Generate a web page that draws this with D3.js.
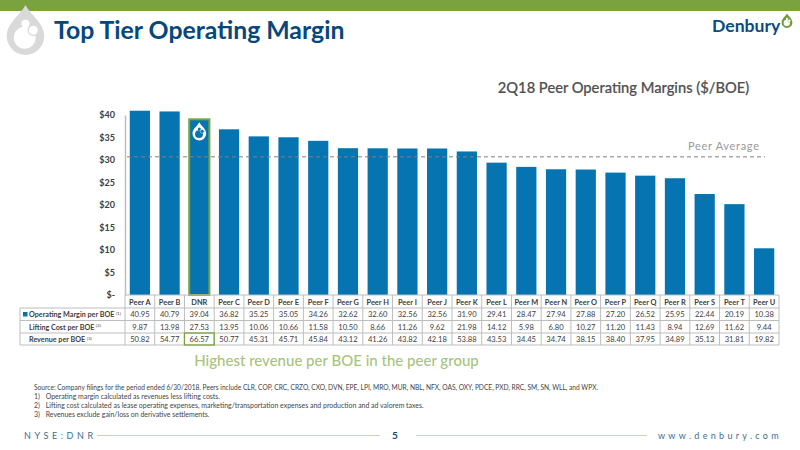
<!DOCTYPE html>
<html>
<head>
<meta charset="utf-8">
<script src="https://cdn.jsdelivr.net/npm/d3@7"></script>
<style>
html,body{margin:0;padding:0;background:#fff}
svg{display:block}
text{font-family:Lato,"Open Sans",sans-serif}
</style>
</head>
<body>
<svg id="c" width="800" height="450"></svg>
<script>
const categories=["Peer A","Peer B","DNR","Peer C","Peer D","Peer E","Peer F","Peer G","Peer H","Peer I","Peer J","Peer K","Peer L","Peer M","Peer N","Peer O","Peer P","Peer Q","Peer R","Peer S","Peer T","Peer U"];
const operatingMargin=[40.95,40.79,39.04,36.82,35.25,35.05,34.26,32.62,32.60,32.56,32.56,31.90,29.41,28.47,27.94,27.88,27.20,26.52,25.95,22.44,20.19,10.38];
const liftingCost=[9.87,13.98,27.53,13.95,10.06,10.66,11.58,10.50,8.66,11.26,9.62,21.98,14.12,5.98,6.80,10.27,11.20,11.43,8.94,12.69,11.62,9.44];
const revenue=[50.82,54.77,66.57,50.77,45.31,45.71,45.84,43.12,41.26,43.82,42.18,53.88,43.53,34.45,34.74,38.15,38.40,37.95,34.89,35.13,31.81,19.82];
const yTicks=[0,5,10,15,20,25,30,35,40];
const peerAverage=30.7;
const rowLabels=["Operating Margin per BOE","Lifting Cost per BOE","Revenue per BOE"];
const rowNotes=["(1)","(2)","(3)"];
const sourceNote="Source: Company filings for the period ended 6/30/2018. Peers include CLR, COP, CRC, CRZO, CXO, DVN, EPE, LPI, MRO, MUR, NBL, NFX, OAS, OXY, PDCE, PXD, RRC, SM, SN, WLL, and WPX.";
const footNumbers=["1)","2)","3)"];
const footnotes=[
"Operating margin calculated as revenues less lifting costs.",
"Lifting cost calculated as lease operating expenses, marketing/transportation expenses and production and ad valorem taxes.",
"Revenues exclude gain/loss on derivative settlements."];

const svg=d3.select("#c");
const blue="#0674b0",green="#7aa33f",navy="#0f4a7c",grey="#bdbdbd",ink="#404040";
const x=d3.scaleBand().domain(categories).range([125,779]).paddingInner(0.32).paddingOuter(0.16);
const col=d3.scaleBand().domain(categories).range([125,779]);
const y=d3.scaleLinear().domain([0,40]).range([295,115]);
const dropPath="M0,-1 C0.25,-0.55 0.72,-0.3 0.72,0.2 A0.72,0.72 0 1 1 -0.72,0.2 C-0.72,-0.3 -0.25,-0.55 0,-1 Z";
function drop(cx,cy,s,fill,hole){
  const g=svg.append("g").attr("transform",`translate(${cx},${cy}) scale(${s})`);
  g.append("path").attr("d",dropPath).attr("fill",fill);
  g.append("circle").attr("cx",-0.03).attr("cy",0.26).attr("r",0.42).attr("fill",hole);
  g.append("circle").attr("cx",0).attr("cy",-0.28).attr("r",0.16).attr("fill",hole);
  g.append("circle").attr("cx",0.3).attr("cy",-0.03).attr("r",0.2).attr("fill",hole).attr("stroke",fill).attr("stroke-width",0.05);
}
// header
svg.append("rect").attr("x",0).attr("y",0).attr("width",800).attr("height",11).attr("fill",green);
drop(25.5,31,26,"#d9d9d9","#fff");
svg.append("text").attr("x",54).attr("y",39).attr("font-size",24.8).attr("font-weight",700).attr("fill","#06477c").text("Top Tier Operating Margin");
svg.append("text").attr("x",712).attr("y",32).attr("font-size",17.6).attr("font-weight",700).attr("fill",navy).text("Denbury");
drop(787,21,7.5,"#6f9a3a","#fff");
svg.append("text").attr("x",623.5).attr("y",92.7).attr("text-anchor","middle").attr("font-size",14.7).attr("font-weight",500).attr("fill","#505050").attr("stroke","#505050").attr("stroke-width",0.2).text("2Q18 Peer Operating Margins ($/BOE)");

// axis
const axis=d3.axisLeft(y).tickValues(yTicks).tickSize(0).tickPadding(10).tickFormat(d=>d===0?"$-":"$"+d);
const ga=svg.append("g").attr("transform","translate(125,0)").call(axis);
ga.select(".domain").attr("stroke",grey).attr("stroke-width",1.5);
ga.selectAll("text").attr("font-size",9).attr("font-weight",700).attr("fill",ink).style("font-family","Lato,sans-serif");

// bars
svg.append("g").selectAll("rect").data(categories).join("rect")
 .attr("x",d=>x(d)).attr("width",x.bandwidth())
 .attr("y",(d,i)=>y(operatingMargin[i])).attr("height",(d,i)=>y(0)-y(operatingMargin[i]))
 .attr("fill",blue)
 .attr("stroke",d=>d==="DNR"?green:"none").attr("stroke-width",d=>d==="DNR"?2:0);
drop(x("DNR")+x.bandwidth()/2,y(36.3),9.5,"#fff",blue);

// peer average
svg.append("line").attr("x1",127).attr("x2",765).attr("y1",y(peerAverage)).attr("y2",y(peerAverage))
 .attr("stroke","#7f7f7f").attr("stroke-width",1).attr("stroke-dasharray","4 3");
svg.append("text").attr("x",688).attr("y",150).attr("font-size",11).attr("letter-spacing",0.7).attr("fill","#999").text("Peer Average");

// table
const rowY=[295,308,320.5,333,345];
const rows=[operatingMargin,liftingCost,revenue];
const t=svg.append("g");
const right=col.range()[1];
rowY.forEach((ry,i)=>t.append("line").attr("x1",i===0?125:20).attr("x2",right).attr("y1",ry).attr("y2",ry).attr("stroke",grey).attr("stroke-width",1));
t.append("line").attr("x1",20).attr("x2",20).attr("y1",rowY[1]).attr("y2",rowY[4]).attr("stroke",grey);
t.selectAll("line.v").data(categories).join("line").attr("class","v")
 .attr("x1",d=>col(d)).attr("x2",d=>col(d)).attr("y1",rowY[0]).attr("y2",rowY[4]).attr("stroke",grey);
t.append("line").attr("x1",right).attr("x2",right).attr("y1",rowY[0]).attr("y2",rowY[4]).attr("stroke",grey);
t.append("g").selectAll("text").data(categories).join("text")
 .attr("x",d=>col(d)+col.bandwidth()/2).attr("y",304.5).attr("text-anchor","middle")
 .attr("font-size",7.4).attr("font-weight",700).attr("fill",ink).text(d=>d);
rows.forEach((r,ri)=>{
  const base=rowY[ri+1]+9.3;
  t.append("g").selectAll("text").data(r).join("text")
   .attr("x",(d,i)=>col(categories[i])+col.bandwidth()/2).attr("y",base).attr("text-anchor","middle")
   .attr("font-size",7.6).attr("fill",ink).text(d=>d.toFixed(2));
  const lab=t.append("text").attr("x",29).attr("y",base).attr("font-size",7.2).attr("font-weight",700).attr("fill",ink);
  lab.append("tspan").text(rowLabels[ri]);
  lab.append("tspan").attr("dy",-2.5).attr("dx",1.5).attr("font-size",4.5).attr("font-weight",400).text(rowNotes[ri]);
});
t.append("rect").attr("x",23).attr("y",rowY[1]+4).attr("width",4.5).attr("height",4.5).attr("fill",blue);
t.append("rect").attr("x",col("DNR")).attr("y",rowY[3]).attr("width",col.bandwidth()).attr("height",rowY[4]-rowY[3]).attr("fill","none").attr("stroke",green).attr("stroke-width",1.3);

svg.append("text").attr("x",336.5).attr("y",366).attr("text-anchor","middle").attr("font-size",15).attr("font-weight",500).attr("fill","#a8c47c").text("Highest revenue per BOE in the peer group");

// notes
svg.append("text").attr("x",34).attr("y",390).attr("font-size",6.64).attr("fill","#444").text(sourceNote);
svg.append("g").selectAll("text").data(footNumbers).join("text")
 .attr("x",34).attr("y",(d,i)=>399+i*9).attr("font-size",6.9).attr("fill","#444").text(d=>d);
svg.append("g").selectAll("text").data(footnotes).join("text")
 .attr("x",45.7).attr("y",(d,i)=>399+i*9).attr("font-size",6.95).attr("fill","#444").text(d=>d);

// footer
svg.append("text").attr("x",24).attr("y",439).attr("font-size",9).attr("letter-spacing",3.6).attr("fill","#3b6e8f").text("NYSE:DNR");
svg.append("text").attr("x",395).attr("y",439).attr("text-anchor","middle").attr("font-size",10).attr("font-weight",700).attr("fill",navy).text("5");
svg.append("text").attr("x",658).attr("y",439).attr("font-size",9).attr("letter-spacing",3.3).attr("fill","#3b6e8f").text("www.denbury.com");
[[97,380],[416,647]].forEach(a=>svg.append("line").attr("x1",a[0]).attr("x2",a[1]).attr("y1",435.5).attr("y2",435.5).attr("stroke","#c8d8ae").attr("stroke-width",1));
</script>
</body>
</html>
